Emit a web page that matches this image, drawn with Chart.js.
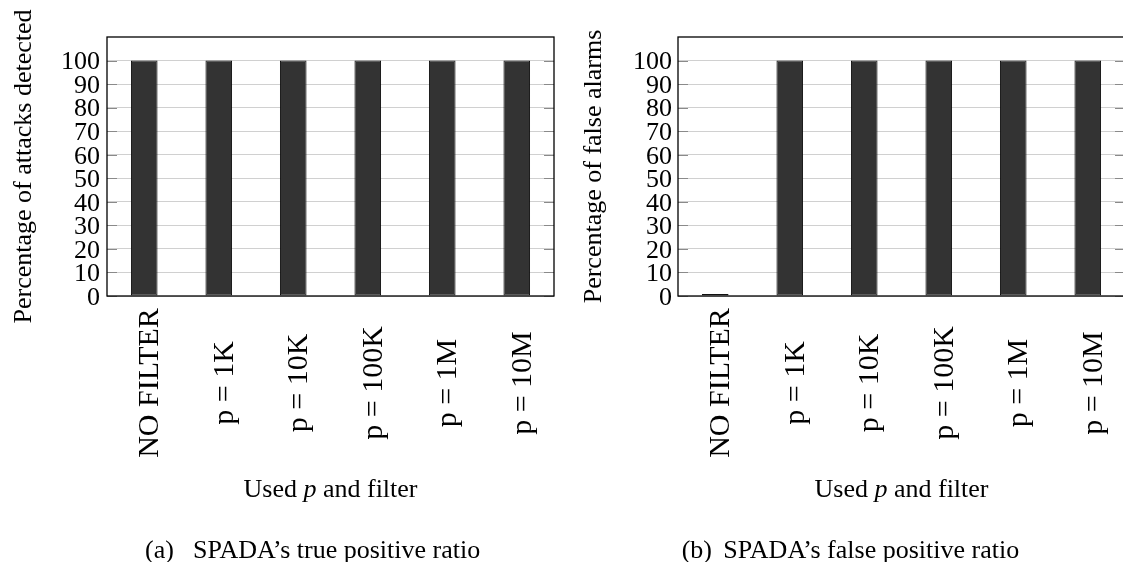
<!DOCTYPE html>
<html><head><meta charset="utf-8">
<script src="https://cdn.jsdelivr.net/npm/chart.js@4.4.1/dist/chart.umd.min.js"></script>
<style>
html,body{margin:0;padding:0;background:#fff;overflow:hidden;width:1123px;height:562px;position:relative;}
canvas{position:absolute;top:0;}
#c1{left:0}
#c2{left:561px}
</style></head><body>
<canvas id="c1" width="561" height="562"></canvas>
<canvas id="c2" width="600" height="562"></canvas>
<script>
// ---- data ----
const categories = ['NO FILTER', 'p = 1K', 'p = 10K', 'p = 100K', 'p = 1M', 'p = 10M'];
const truePositivePct = [100, 100, 100, 100, 100, 100];
const falsePositivePct = [0.8, 100, 100, 100, 100, 100];
const yTickValues = [0, 10, 20, 30, 40, 50, 60, 70, 80, 90, 100];
const yMax = 110;
const yTitles = ['Percentage of attacks detected', 'Percentage of false alarms'];
const xTitleParts = ['Used ', 'p', ' and filter'];
const captionLabels = ['(a)', '(b)'];
const captionTexts = ['SPADA\u2019s true positive ratio', 'SPADA\u2019s false positive ratio'];

const SERIF = '"Liberation Serif", "Times New Roman", serif';

function decorPlugin(idx, capLabelX, capTextX) {
  return {
    id: 'decor' + idx,
    afterDraw(chart) {
      const ctx = chart.ctx, a = chart.chartArea;
      const ys = chart.scales.y, xs = chart.scales.x;
      ctx.save();
      // inner tick marks on both sides
      ctx.strokeStyle = '#8a8a8a';
      ctx.lineWidth = 1;
      yTickValues.forEach(v => {
        const y = Math.round(ys.getPixelForValue(v)) + 0.5;
        ctx.beginPath();
        ctx.moveTo(a.left, y); ctx.lineTo(a.left + 10, y);
        ctx.moveTo(a.right - 10, y); ctx.lineTo(a.right, y);
        ctx.stroke();
      });
      // frame
      ctx.strokeStyle = '#000';
      ctx.lineWidth = 1.3;
      ctx.strokeRect(a.left, a.top, a.right - a.left, a.bottom - a.top);
      // rotated category labels, centred vertically
      ctx.fillStyle = '#000';
      ctx.font = '30px ' + SERIF;
      ctx.textAlign = 'center';
      ctx.textBaseline = 'alphabetic';
      categories.forEach((c, i) => {
        const x = xs.getPixelForValue(i);
        ctx.save();
        ctx.translate(x + 14, 383);
        ctx.rotate(-Math.PI / 2);
        ctx.fillText(c, 0, 0);
        ctx.restore();
      });
      // x-axis title with italic p
      ctx.textAlign = 'left';
      const fonts = ['26px ' + SERIF, 'italic 26px ' + SERIF, '26px ' + SERIF];
      let total = 0;
      const widths = xTitleParts.map((t, i) => { ctx.font = fonts[i]; const w = ctx.measureText(t).width; total += w; return w; });
      let x0 = (a.left + a.right) / 2 - total / 2;
      xTitleParts.forEach((t, i) => { ctx.font = fonts[i]; ctx.fillText(t, x0, 497); x0 += widths[i]; });
      // caption
      ctx.font = '26px ' + SERIF;
      ctx.fillText(captionLabels[idx], capLabelX, 558);
      ctx.fillText(captionTexts[idx], capTextX, 558);
      ctx.restore();
    }
  };
}

function makeChart(canvasId, idx, values, yWidth, padRight, titlePad, capLabelX, capTextX) {
  return new Chart(document.getElementById(canvasId), {
    type: 'bar',
    data: {
      labels: categories,
      datasets: [{
        data: values,
        backgroundColor: '#333333',
        borderColor: '#111111',
        borderWidth: 1,
        borderSkipped: false,
        categoryPercentage: 1,
        barPercentage: 0.357
      }]
    },
    options: {
      responsive: false,
      animation: false,
      devicePixelRatio: 1,
      layout: { padding: { top: 37, right: padRight, left: 0, bottom: 0 } },
      plugins: { legend: { display: false }, tooltip: { enabled: false } },
      scales: {
        x: {
          grid: { display: false, drawTicks: false },
          border: { display: false },
          ticks: { display: false },
          afterFit(s) { s.height = 266; }
        },
        y: {
          min: 0, max: yMax,
          afterBuildTicks(s) { s.ticks = yTickValues.map(v => ({ value: v })); },
          grid: { color: '#d0d0d0', lineWidth: 1, drawTicks: false },
          border: { display: false },
          ticks: {
            autoSkip: false,
            padding: idx === 0 ? 7 : 6,
            labelOffset: 2,
            color: '#000',
            font: { family: SERIF, size: 26 },
            callback: v => String(v)
          },
          title: {
            display: true,
            text: yTitles[idx],
            color: '#000',
            font: { family: SERIF, size: 26 },
            padding: { top: titlePad, bottom: 0 }
          },
          afterFit(s) { s.width = yWidth; }
        }
      }
    },
    plugins: [decorPlugin(idx, capLabelX, capTextX)]
  });
}

makeChart('c1', 0, truePositivePct, 107, 7, 8.4, 145, 193);
makeChart('c2', 1, falsePositivePct, 117, 36, 17.4, 120.7, 162.3);
</script>
</body></html>
